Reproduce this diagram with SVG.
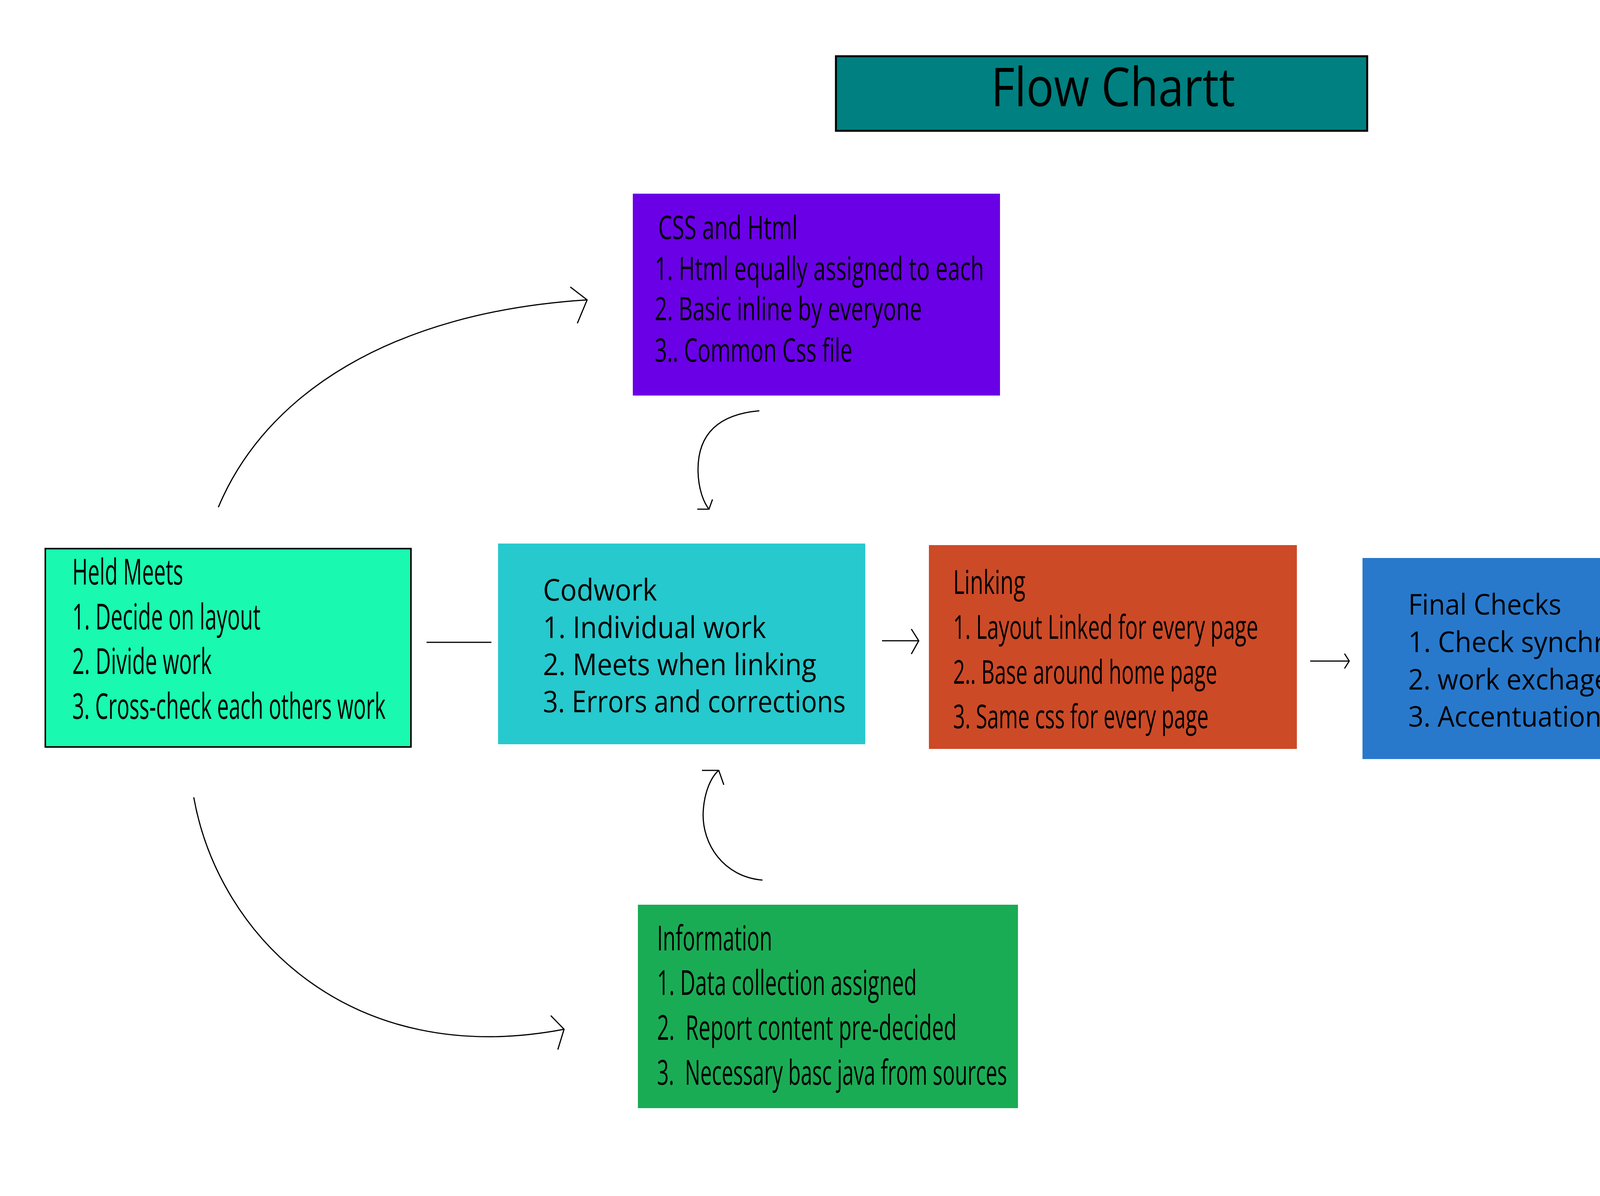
<svg xmlns="http://www.w3.org/2000/svg" width="5571" height="3063" viewBox="0 0 5571 3063">
<style>
text{font-family:"Open Sans","Liberation Sans",sans-serif;fill:#000}
.c{stroke:#000;stroke-width:3;fill:none;stroke-linecap:butt;stroke-linejoin:miter}
</style>
<rect x="0" y="0" width="5571" height="3063" fill="#fff"/>
<g id="title">
<rect x="2140" y="144" width="1360" height="191" fill="#008080" stroke="#000" stroke-width="5"/>
<text x="2537" y="272" font-size="138" textLength="625" lengthAdjust="spacingAndGlyphs">Flow Chartt</text>
</g>
<g id="held-meets">
<rect x="116" y="1405" width="936" height="508" fill="#19F9B0" stroke="#000" stroke-width="4"/>
<text x="185" y="1497" font-size="91" textLength="284" lengthAdjust="spacingAndGlyphs">Held Meets</text>
<text x="185" y="1612" font-size="91" textLength="482" lengthAdjust="spacingAndGlyphs">1. Decide on layout</text>
<text x="185" y="1726" font-size="91" textLength="357" lengthAdjust="spacingAndGlyphs">2. Divide work</text>
<text x="185" y="1841" font-size="91" textLength="802" lengthAdjust="spacingAndGlyphs">3. Cross-check each others work</text>
</g>
<g id="css-html">
<rect x="1620" y="496" width="940" height="517" fill="#6A00E6"/>
<text x="1685" y="612" font-size="83" textLength="357" lengthAdjust="spacingAndGlyphs">CSS and Html</text>
<text x="1676" y="717" font-size="83" textLength="843" lengthAdjust="spacingAndGlyphs">1. Html equally assigned to each</text>
<text x="1676" y="820" font-size="83" textLength="684" lengthAdjust="spacingAndGlyphs">2. Basic inline by everyone</text>
<text x="1676" y="926" font-size="83" textLength="506" lengthAdjust="spacingAndGlyphs">3.. Common Css file</text>
</g>
<g id="codwork">
<rect x="1275" y="1392" width="940" height="514" fill="#26C9CD"/>
<text x="1390" y="1538" font-size="76" textLength="292" lengthAdjust="spacingAndGlyphs">Codwork</text>
<text x="1390" y="1634" font-size="76" textLength="571" lengthAdjust="spacingAndGlyphs">1. Individual work</text>
<text x="1390" y="1729" font-size="76" textLength="700" lengthAdjust="spacingAndGlyphs">2. Meets when linking</text>
<text x="1390" y="1824" font-size="76" textLength="775" lengthAdjust="spacingAndGlyphs">3. Errors and corrections</text>
</g>
<g id="linking">
<rect x="2378" y="1396" width="942" height="522" fill="#CD4A27"/>
<text x="2440" y="1521" font-size="85" textLength="185" lengthAdjust="spacingAndGlyphs">Linking</text>
<text x="2440" y="1636" font-size="85" textLength="781" lengthAdjust="spacingAndGlyphs">1. Layout Linked for every page</text>
<text x="2440" y="1751" font-size="85" textLength="676" lengthAdjust="spacingAndGlyphs">2.. Base around home page</text>
<text x="2440" y="1865" font-size="85" textLength="654" lengthAdjust="spacingAndGlyphs">3. Same css for every page</text>
</g>
<g id="final-checks">
<rect x="3488" y="1429" width="942" height="515" fill="#2879CC"/>
<text x="3605" y="1574" font-size="73" textLength="392" lengthAdjust="spacingAndGlyphs">Final Checks</text>
<text x="3605" y="1670" font-size="73" textLength="715" lengthAdjust="spacingAndGlyphs">1. Check synchronicity</text>
<text x="3605" y="1766" font-size="73" textLength="515" lengthAdjust="spacingAndGlyphs">2. work exchage</text>
<text x="3605" y="1861" font-size="73" textLength="495" lengthAdjust="spacingAndGlyphs">3. Accentuation</text>
</g>
<g id="compilation">
<rect x="4634" y="1420" width="937" height="520" fill="#CE27B0"/>
<text x="4714" y="1571" font-size="123" textLength="782" lengthAdjust="spacingAndGlyphs">Compilation</text>
<text x="4714" y="1727" font-size="123">&amp;</text>
<text x="4714" y="1882" font-size="123" textLength="529" lengthAdjust="spacingAndGlyphs">Delivery</text>
</g>
<g id="information">
<rect x="1633" y="2317" width="973" height="521" fill="#1AAC54"/>
<text x="1682" y="2434" font-size="87" textLength="295" lengthAdjust="spacingAndGlyphs">Information</text>
<text x="1682" y="2548" font-size="87" textLength="665" lengthAdjust="spacingAndGlyphs">1. Data collection assigned</text>
<text x="1682" y="2663" font-size="87" xml:space="preserve" textLength="767" lengthAdjust="spacingAndGlyphs">2.  Report content pre-decided</text>
<text x="1682" y="2778" font-size="87" xml:space="preserve" textLength="896" lengthAdjust="spacingAndGlyphs">3.  Necessary basc java from sources</text>
</g>
<g id="connectors">
<path class="c" d="M559,1299 C680,1010 1000,800 1503,768"/>
<path class="c" d="M1460,735 L1503,768 L1478,828"/>
<path class="c" d="M496,2042 C560,2400 900,2740 1444,2636"/>
<path class="c" d="M1410,2601 L1444,2636 L1428,2688"/>
<path class="c" d="M1944,1052 C1830,1062 1785,1120 1787,1208 C1788,1250 1800,1285 1815,1304"/>
<path class="c" d="M1785,1304 L1815,1304 L1824,1279"/>
<path class="c" d="M1952,2254 C1850,2245 1798,2160 1800,2083 C1802,2030 1820,1990 1840,1973"/>
<path class="c" d="M1797,1973 L1840,1973 L1853,2010"/>
<path class="c" stroke-width="4" d="M1092,1645 L1258,1645"/>
<path class="c" d="M2258,1641 L2350,1641"/>
<path class="c" d="M2333,1611 L2352,1641 L2333,1675"/>
<path class="c" d="M3354,1693 L3454,1693"/>
<path class="c" d="M3442,1674 L3454,1693 L3442,1712"/>
<path class="c" d="M4459,1698 L4595,1698"/>
<path class="c" d="M4579,1678 L4595,1698 L4579,1720"/>
</g>
</svg>
